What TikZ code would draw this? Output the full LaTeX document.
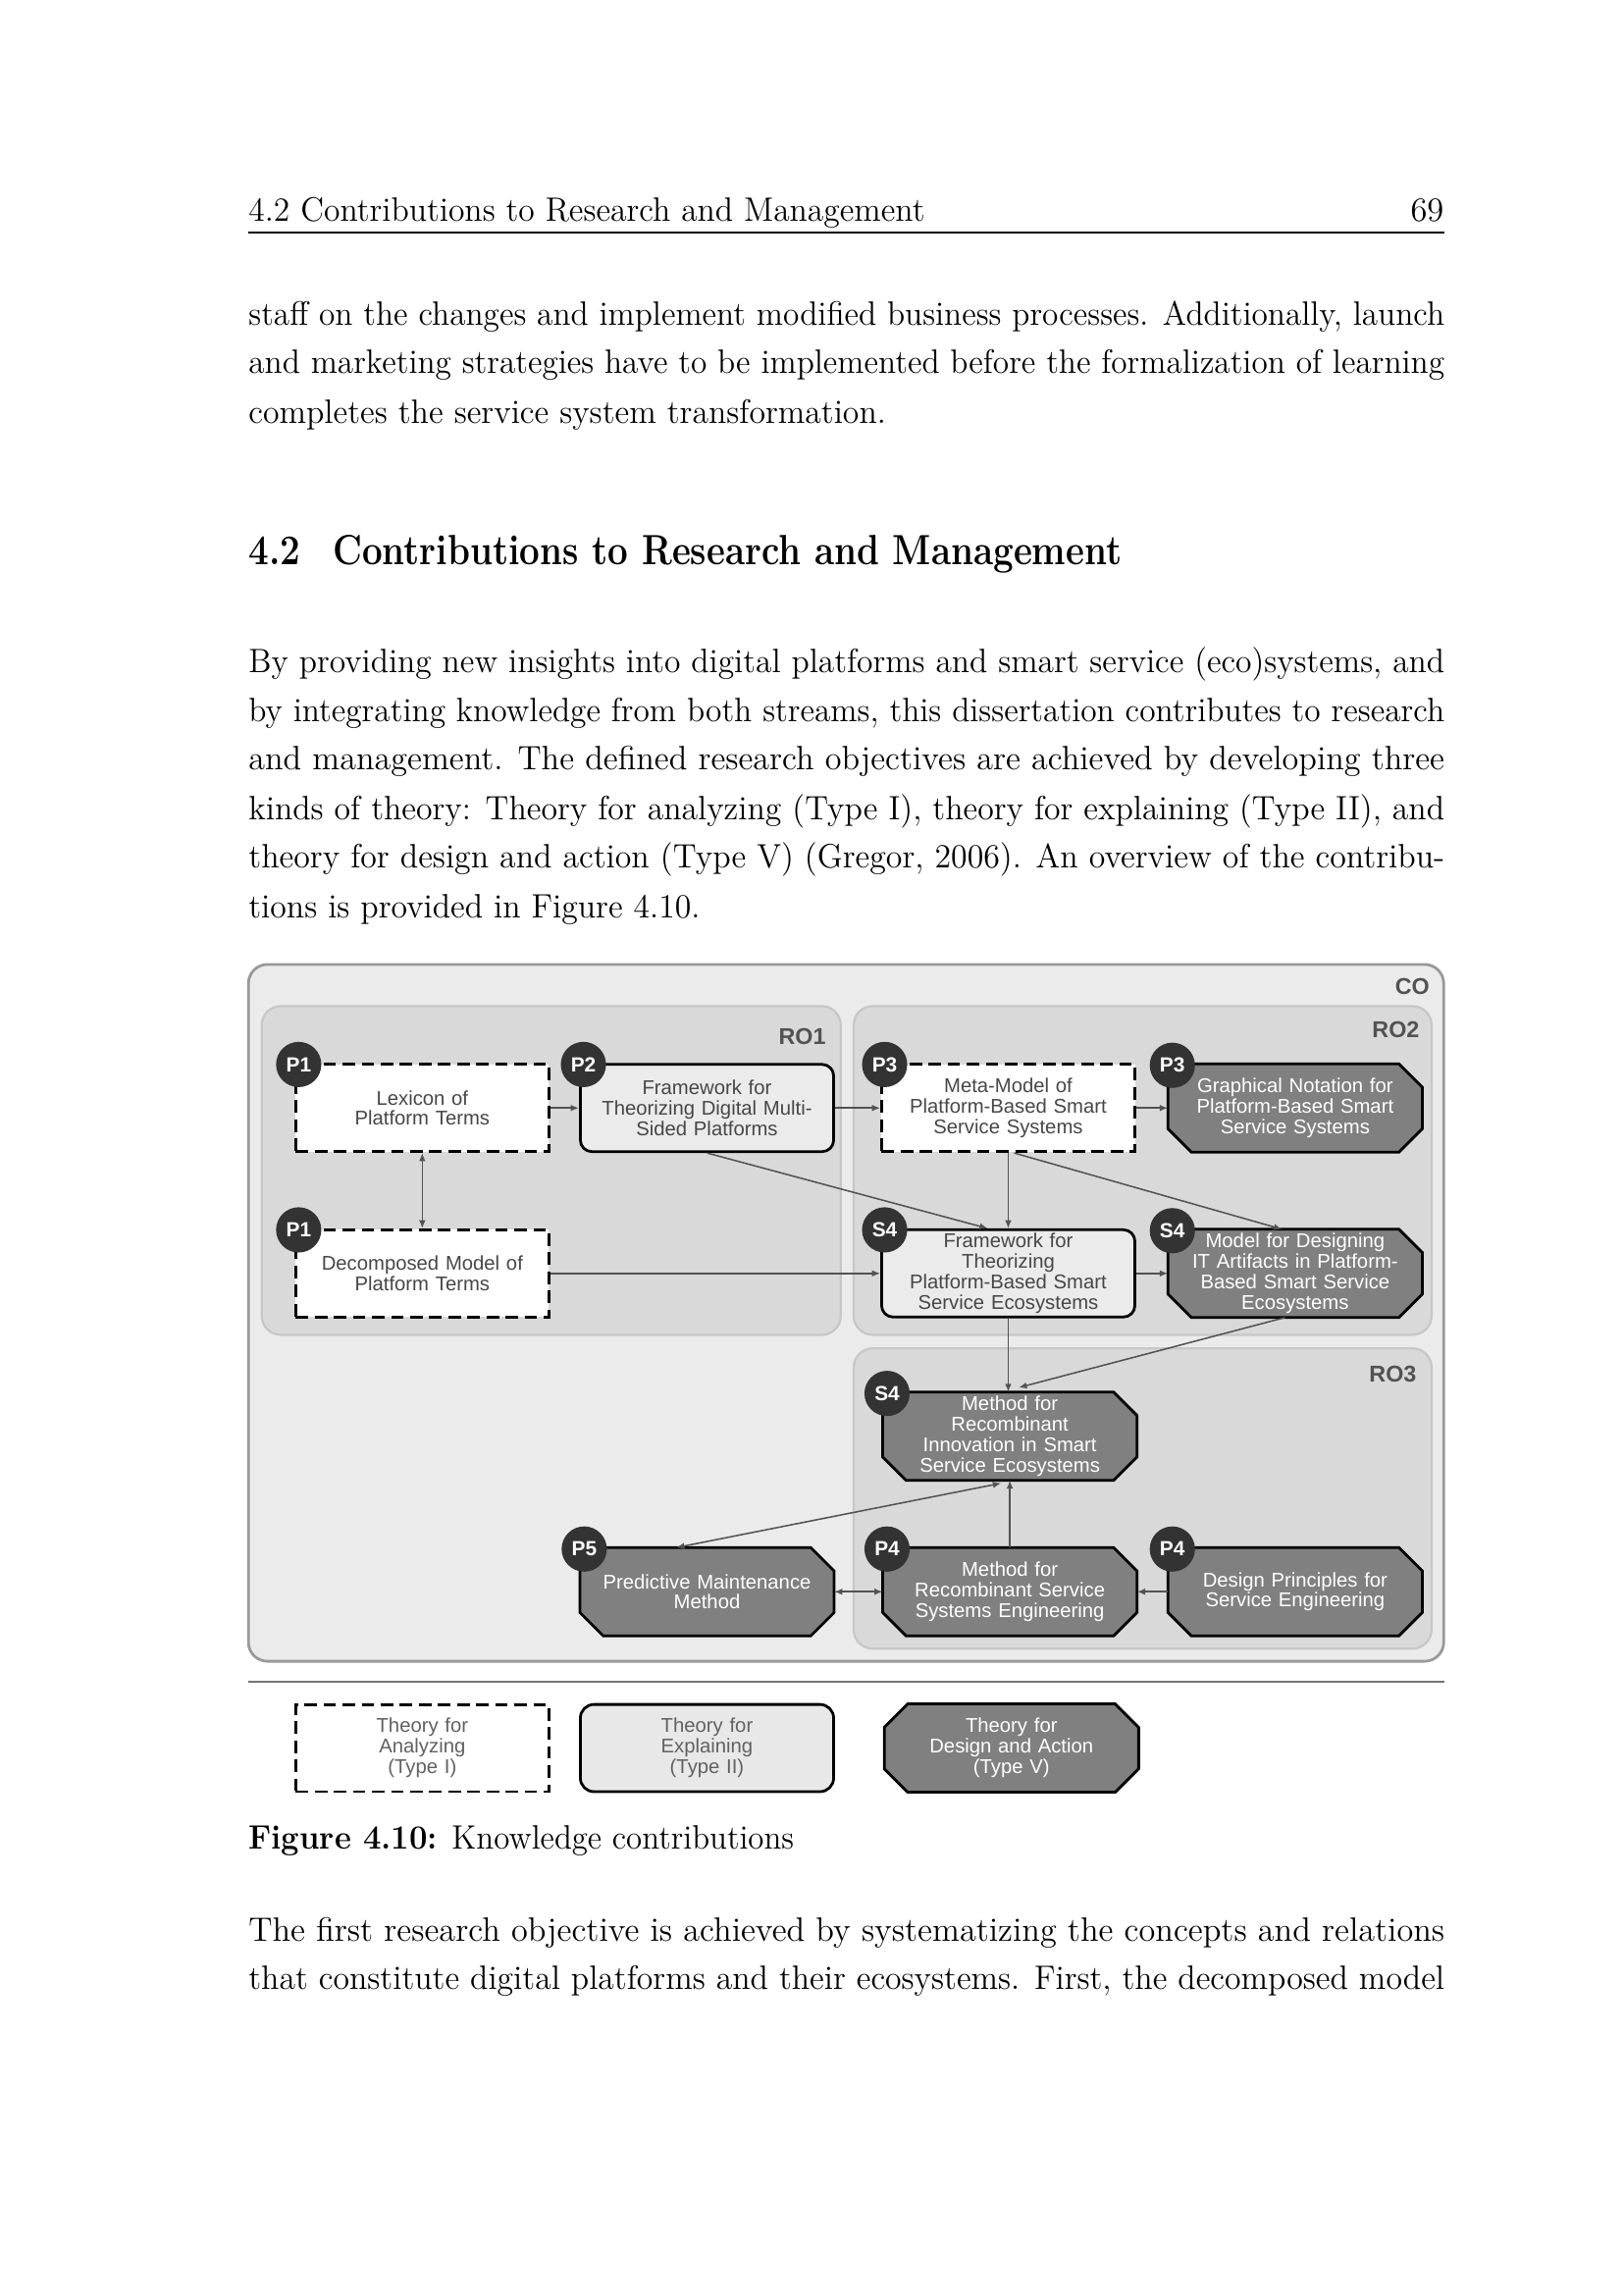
\documentclass[tikz,border=0pt]{standalone}
\usepackage{fontspec}
\usepackage{graphicx}
\newfontfamily\dsans{Liberation Sans}
\usetikzlibrary{arrows.meta,calc}
\pgfdeclarelayer{bglayer}
\pgfdeclarelayer{octlayer}
\pgfsetlayers{bglayer,octlayer,main}
\newlength\uu
\setlength\uu{0.53692pt}
\newcommand\bodyfont{\fontsize{12.4}{15}\selectfont}
\newcommand\tline[4]{\node[anchor=base west,inner sep=0pt,font=\bodyfont] (#1) at (169.5,#2) {\resizebox{#3\uu}{\height}{#4}};}
\newcommand\octag[1]{\filldraw[octo] ($(#1.north west)+(16,0)$) -- ($(#1.north east)+(-16,0)$) -- ($(#1.north east)+(0,16)$) -- ($(#1.south east)+(0,-16)$) -- ($(#1.south east)+(-16,0)$) -- ($(#1.south west)+(16,0)$) -- ($(#1.south west)+(0,-16)$) -- ($(#1.north west)+(0,16)$) -- cycle;}
\tikzset{
  txt/.style={font=\dsans\fontsize{7.3}{7.5}\selectfont, align=center, text=black!72,
    text width=92.9pt, inner xsep=0pt, inner ysep=0pt, minimum height=32pt},
  anal/.style={txt, draw=black, line width=1pt, dash pattern=on 4.6pt off 2.4pt, fill=white},
  expl/.style={txt, draw=black, line width=1pt, rounded corners=4.2pt, fill=black!8},
  desg/.style={txt, text=white},
  octo/.style={fill=black!50, draw=black, line width=1pt},
  badge/.style={circle, fill=black!80, text=white, font=\dsans\bfseries\fontsize{7.5}{7.5}\selectfont,
    minimum size=16.6pt, inner sep=0pt},
  grp/.style={font=\dsans\bfseries\fontsize{8.4}{8.4}\selectfont, text=black!68, inner sep=0pt},
  cobox/.style={fill=black!8, draw=black!40, line width=1pt, rounded corners=7pt},
  robox/.style={fill=black!15, draw=black!22, line width=0.8pt, rounded corners=7pt},
  ar/.style={draw=black!68, line width=0.55pt, -{Latex[length=3pt,width=2.4pt]}},
  dar/.style={draw=black!68, line width=0.55pt, {Latex[length=3pt,width=2.4pt]}-{Latex[length=3pt,width=2.4pt]}}
}
\begin{document}
\begin{tikzpicture}[x=0.53692pt, y=-0.53692pt]
\begin{pgfonlayer}{bglayer}
\fill[white] (0,0) rectangle (1109,1568);
\draw[cobox] (169.7,658.9) rectangle (986.3,1135);
\draw[robox] (178.8,687.4) rectangle (574.4,912);
\draw[robox] (583.2,687.4) rectangle (978,912);
\draw[robox] (583.2,921.2) rectangle (978,1126.4);
\end{pgfonlayer}
\useasboundingbox (0,0) rectangle (1109,1568);

% page text
\tline{hd}{151}{462}{4.2 Contributions to Research and Management}
\node[anchor=base east,inner sep=0pt,font=\bodyfont] (pg) at (986.7,151) {69};
\draw[line width=0.6pt] (169.5,159) -- (986.7,159);

\tline{a1}{222}{817}{staff on the changes and implement modified business processes. Additionally, launch}
\tline{a2}{255}{817}{and marketing strategies have to be implemented before the formalization of learning}
\tline{a3}{289}{435.5}{completes the service system transformation.}

\node[anchor=base west,inner sep=0pt,font=\fontsize{15.5}{18}\selectfont\bfseries] (sec) at (169.5,385.5) {\resizebox{596.5\uu}{\height}{4.2\hspace{0.9em}Contributions to Research and Management}};

\tline{b1}{459.5}{817}{By providing new insights into digital platforms and smart service (eco)systems, and}
\tline{b2}{493}{817}{by integrating knowledge from both streams, this dissertation contributes to research}
\tline{b3}{526}{817}{and management. The defined research objectives are achieved by developing three}
\tline{b4}{560}{817}{kinds of theory: Theory for analyzing (Type I), theory for explaining (Type II), and}
\tline{b5}{593}{817}{theory for design and action (Type V) (Gregor, 2006). An overview of the contribu-}
\tline{b6}{627}{308.5}{tions is provided in Figure 4.10.}

\tline{cap}{1263}{372.5}{\textbf{Figure 4.10:} Knowledge contributions}

\tline{c1}{1326}{817}{The first research objective is achieved by systematizing the concepts and relations}
\tline{c2}{1359}{817}{that constitute digital platforms and their ecosystems. First, the decomposed model}

% group labels
\node[grp, anchor=east] (lco) at (977,674) {CO};
\node[grp, anchor=east] (lro1) at (564.5,708) {RO1};
\node[grp, anchor=east] (lro2) at (970,703.5) {RO2};
\node[grp, anchor=east] (lro3) at (968,939) {RO3};

% nodes
\node[anal] (lex) at (288.5,757) {Lexicon of\\Platform Terms};
\node[expl] (fw1) at (483,757) {Framework for\\Theorizing Digital Multi-\\Sided Platforms};
\node[anal] (meta) at (688.8,757) {Meta-Model of\\Platform-Based Smart\\Service Systems};
\node[desg] (gn) at (884.8,757) {Graphical Notation for\\Platform-Based Smart\\Service Systems};
\node[anal] (dec) at (288.5,870) {Decomposed Model of\\Platform Terms};
\node[expl] (fw2) at (688.8,870) {Framework for\\Theorizing\\Platform-Based Smart\\Service Ecosystems};
\node[desg] (mdes) at (884.8,870) {Model for Designing\\IT Artifacts in Platform-\\Based Smart Service\\Ecosystems};
\node[desg] (minn) at (689.9,981.2) {Method for\\Recombinant\\Innovation in Smart\\Service Ecosystems};
\node[desg] (pm) at (483,1087.5) {Predictive Maintenance\\Method};
\node[desg] (msvc) at (689.9,1087.5) {Method for\\Recombinant Service\\Systems Engineering};
\node[desg] (dp) at (884.8,1087.5) {Design Principles for\\Service Engineering};

% legend
\draw[black!55, line width=0.8pt] (169.7,1149) -- (986.7,1149);
\node[anal, text=black!62] (l1) at (288.5,1194.3) {Theory for\\Analyzing\\(Type I)};
\node[expl, text=black!62, rounded corners=5pt, fill=black!9] (l2) at (483,1194.3) {Theory for\\Explaining\\(Type II)};
\node[desg] (l3) at (691,1194.3) {Theory for\\Design and Action\\(Type V)};

\begin{pgfonlayer}{octlayer}
\foreach \n in {gn,mdes,minn,pm,msvc,dp,l3} {\octag{\n}}
\end{pgfonlayer}

% arrows
\draw[ar] (lex.east) -- (fw1.west);
\draw[ar] (fw1.east) -- (meta.west);
\draw[ar] (meta.east) -- (gn.west);
\draw[dar] (lex.south) -- (dec.north);
\draw[ar] (fw1.south) -- ($(fw2.north)+(-14,0)$);
\draw[ar] (meta.south) -- (fw2.north);
\draw[ar] ($(meta.south)+(4,0)$) -- ($(mdes.north)+(-9,0)$);
\draw[ar] (dec.east) -- (fw2.west);
\draw[ar] (fw2.east) -- (mdes.west);
\draw[ar] (fw2.south) -- (fw2.south |- minn.north);
\draw[ar] ($(mdes.south)+(-7,0)$) -- ($(minn.north)+(6,-3)$);
\draw[dar] ($(pm.north)+(-21,0)$) -- ($(minn.south)+(-6,2)$);
\draw[ar] (msvc.north) -- (msvc.north |- minn.south);
\draw[dar] (pm.east) -- (msvc.west);
\draw[ar] (dp.west) -- (msvc.east);

% badges
\foreach \n/\t [count=\i] in {lex/P1, fw1/P2, meta/P3, gn/P3, dec/P1, fw2/S4, mdes/S4, minn/S4, pm/P5, msvc/P4, dp/P4}
  {\node[badge] (bd\i) at ($(\n.north west)+(3,1)$) {\t};}
\end{tikzpicture}
\end{document}
